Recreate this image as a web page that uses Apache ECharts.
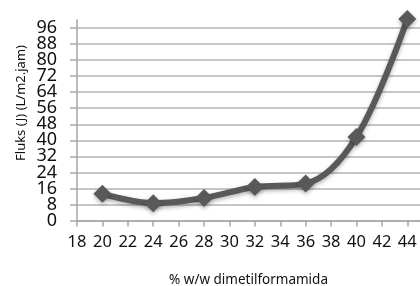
<!DOCTYPE html>
<html lang="id">
<head>
    <meta charset="UTF-8">
    <script src="https://cdn.jsdelivr.net/npm/echarts@6/dist/echarts.min.js"></script>
    <title>Fluks</title>
    <style>
        html, body { margin: 0; padding: 0; background: #fff; }
        #main { width: 420px; height: 286px; }
    </style>
</head>
<body>
    <div id="main"></div>
    <script>
        // konsentrasi DMF (% w/w) dan fluks (L/m2.jam)
        var konsentrasi = [20, 24, 28, 32, 36, 40, 44];
        var fluks = [13.3, 8.6, 11.2, 16.7, 18.4, 41.7, 100.5];
        var xTicks = [18, 20, 22, 24, 26, 28, 30, 32, 34, 36, 38, 40, 42, 44];
        var yTicks = [0, 8, 16, 24, 32, 40, 48, 56, 64, 72, 80, 88, 96];

        // labels are split over two overlaid axes so none gets dropped for overlapping
        var yLabelsA = yTicks.filter(function (v, i) { return i % 2 === 0; });
        var yLabelsB = yTicks.filter(function (v, i) { return i % 2 === 1; });

        var data = konsentrasi.map(function (x, i) { return [x, fluks[i]]; });
        var chart = echarts.init(document.getElementById('main'));

        var yLabelStyle = {
            showMinLabel: true, showMaxLabel: true,
            margin: 20, fontFamily: 'Noto Sans', fontSize: 18, color: '#111'
        };

        var option = {
            animation: false,
            grid: { left: 77, right: 0, top: 20, bottom: 65.5, outerBoundsMode: 'none' },
            xAxis: {
                type: 'value',
                min: 18,
                max: 45,
                interval: 2,
                name: '% w/w dimetilformamida',
                nameLocation: 'middle',
                nameGap: 53,
                nameTextStyle: { fontFamily: 'Noto Sans', fontSize: 13.5, color: '#111' },
                axisLine: { lineStyle: { color: '#a6a6a6', width: 1.5 } },
                axisTick: { show: true, length: 6, customValues: xTicks, lineStyle: { color: '#a6a6a6', width: 1.5 } },
                axisLabel: {
                    customValues: xTicks, showMinLabel: true, margin: 13,
                    fontFamily: 'Noto Sans', fontSize: 16.5, color: '#111'
                },
                splitLine: { show: false }
            },
            yAxis: [{
                type: 'value',
                min: 0,
                max: 100,
                interval: 8,
                position: 'left',
                axisLine: { show: true, lineStyle: { color: '#a6a6a6', width: 1.5 } },
                axisTick: { show: true, length: 7, customValues: yTicks, lineStyle: { color: '#a6a6a6', width: 1.5 } },
                axisLabel: Object.assign({ customValues: yLabelsA }, yLabelStyle),
                splitLine: { show: true, lineStyle: { color: '#b3b3b3', width: 1.5 } }
            }, {
                type: 'value',
                min: 0,
                max: 100,
                interval: 8,
                position: 'left',
                offset: 0,
                axisLine: { show: false },
                axisTick: { show: false, customValues: yLabelsB },
                axisLabel: Object.assign({ customValues: yLabelsB }, yLabelStyle),
                splitLine: { show: false }
            }],
            graphic: [{
                type: 'text',
                x: 21,
                y: 103,
                rotation: Math.PI / 2,
                style: {
                    text: 'Fluks (J) (L/m2.jam)',
                    fontFamily: 'Noto Sans',
                    fontSize: 13,
                    fill: '#111',
                    align: 'center',
                    verticalAlign: 'middle'
                }
            }],
            series: [{
                type: 'line',
                data: data,
                yAxisIndex: 0,
                smooth: 0.35,
                clip: false,
                symbol: 'diamond',
                symbolSize: 18,
                lineStyle: { color: '#595959', width: 6, shadowColor: 'rgba(0,0,0,0.3)', shadowBlur: 4, shadowOffsetY: 2 },
                itemStyle: { color: '#595959', shadowColor: 'rgba(0,0,0,0.3)', shadowBlur: 4, shadowOffsetY: 2 }
            }]
        };

        chart.setOption(option);
    </script>
</body>
</html>
